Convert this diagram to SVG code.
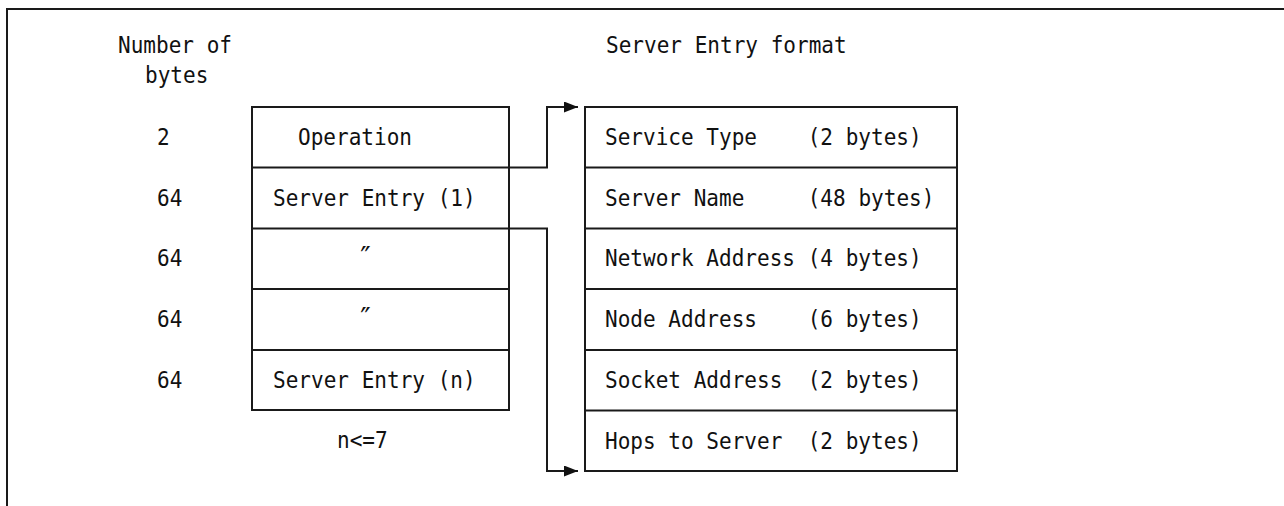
<svg xmlns="http://www.w3.org/2000/svg" width="1284" height="506" viewBox="0 0 1284 506">
<style>
text{font-family:"DejaVu Sans Mono","Liberation Mono",monospace;font-size:23px;fill:#111;white-space:pre}
.ditto{font-size:28px}
.box{fill:#fff;stroke:#1a1a1a;stroke-width:2}
.ln{fill:none;stroke:#1a1a1a;stroke-width:2}
</style>
<defs>
<marker id="arr" markerWidth="14" markerHeight="11" refX="14" refY="5.5" orient="auto" markerUnits="userSpaceOnUse">
<path d="M0,0 L14,5.5 L0,11 Z" fill="#111"/>
</marker>
</defs>
<rect width="1284" height="506" fill="#fff"/>
<path class="ln" d="M7,506 V9 H1284"/>
<g id="headers">
<text x="118" y="53" textLength="114" lengthAdjust="spacingAndGlyphs">Number of</text>
<text x="145" y="83" textLength="63.3" lengthAdjust="spacingAndGlyphs">bytes</text>
<text x="606" y="53" textLength="240.7" lengthAdjust="spacingAndGlyphs">Server Entry format</text>
</g>
<g id="byte-counts">
<text x="157" y="145" textLength="12.7" lengthAdjust="spacingAndGlyphs">2</text>
<text x="157" y="206" textLength="25.3" lengthAdjust="spacingAndGlyphs">64</text>
<text x="157" y="266" textLength="25.3" lengthAdjust="spacingAndGlyphs">64</text>
<text x="157" y="327" textLength="25.3" lengthAdjust="spacingAndGlyphs">64</text>
<text x="157" y="388" textLength="25.3" lengthAdjust="spacingAndGlyphs">64</text>
</g>
<g id="packet">
<rect class="box" x="252" y="107" width="257" height="303"/>
<line class="ln" x1="252" y1="167.5" x2="509" y2="167.5"/>
<line class="ln" x1="252" y1="228.5" x2="509" y2="228.5"/>
<line class="ln" x1="252" y1="289" x2="509" y2="289"/>
<line class="ln" x1="252" y1="350" x2="509" y2="350"/>
<text x="298" y="145" textLength="114" lengthAdjust="spacingAndGlyphs">Operation</text>
<text x="273" y="206" textLength="202.7" lengthAdjust="spacingAndGlyphs">Server Entry (1)</text>
<text class="ditto" x="357" y="267">″</text>
<text class="ditto" x="357" y="328">″</text>
<text x="273" y="388" textLength="202.7" lengthAdjust="spacingAndGlyphs">Server Entry (n)</text>
<text x="337" y="448" textLength="50.7" lengthAdjust="spacingAndGlyphs">n&lt;=7</text>
</g>
<g id="server-entry">
<rect class="box" x="585" y="107" width="372" height="364"/>
<line class="ln" x1="585" y1="167.5" x2="957" y2="167.5"/>
<line class="ln" x1="585" y1="228.5" x2="957" y2="228.5"/>
<line class="ln" x1="585" y1="289" x2="957" y2="289"/>
<line class="ln" x1="585" y1="350" x2="957" y2="350"/>
<line class="ln" x1="585" y1="410.5" x2="957" y2="410.5"/>
<text x="605" y="145" textLength="316.7" lengthAdjust="spacingAndGlyphs">Service Type    (2 bytes)</text>
<text x="605" y="206" textLength="329.4" lengthAdjust="spacingAndGlyphs">Server Name     (48 bytes)</text>
<text x="605" y="266" textLength="316.7" lengthAdjust="spacingAndGlyphs">Network Address (4 bytes)</text>
<text x="605" y="327" textLength="316.7" lengthAdjust="spacingAndGlyphs">Node Address    (6 bytes)</text>
<text x="605" y="388" textLength="316.7" lengthAdjust="spacingAndGlyphs">Socket Address  (2 bytes)</text>
<text x="605" y="449" textLength="316.7" lengthAdjust="spacingAndGlyphs">Hops to Server  (2 bytes)</text>
</g>
<g id="connectors">
<path class="ln" d="M509,167.5 H547 V107 H578" marker-end="url(#arr)"/>
<path class="ln" d="M509,228.5 H547 V471 H578" marker-end="url(#arr)"/>
</g>
</svg>
